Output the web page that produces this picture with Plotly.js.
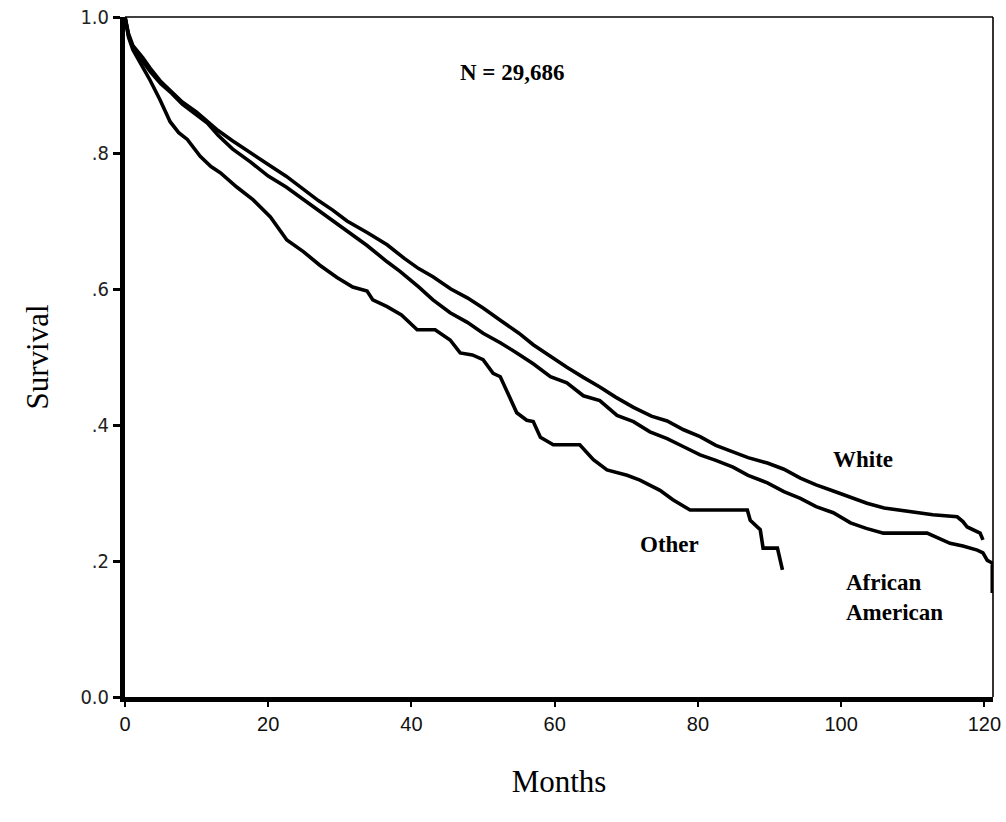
<!DOCTYPE html>
<html>
<head>
<meta charset="utf-8">
<script src="https://cdn.plot.ly/plotly-3.0.1.min.js"></script>
<style>
  html, body { margin: 0; padding: 0; background: #ffffff; }
  #chart { width: 1006px; height: 822px; }
</style>
</head>
<body>
<div id="chart"></div>
<script>
// Kaplan-Meier survival by race, months since start
const whiteMonths = [0, 0.5, 1.1, 2.5, 3.5, 5, 6.5, 8, 10, 11.5, 13, 15, 17.5, 20, 22.5, 24.5, 27, 29, 31, 33.8, 36.6, 39, 41, 43, 45.5, 47.8, 50, 52.4, 55, 57, 59.5, 61.7, 64, 66.3, 68.5, 71, 73.5, 75.7, 78, 80.3, 82.5, 84.9, 87, 89.7, 92, 94.3, 96.5, 98.9, 101, 103.6, 106, 108.2, 110.5, 112.8, 116.2, 117, 117.6, 119.4, 119.8];
const whiteSurv = [1.0, 0.975, 0.958, 0.94, 0.925, 0.905, 0.89, 0.875, 0.86, 0.846, 0.833, 0.818, 0.8, 0.783, 0.766, 0.75, 0.73, 0.716, 0.7, 0.683, 0.665, 0.645, 0.63, 0.618, 0.6, 0.587, 0.572, 0.554, 0.535, 0.518, 0.5, 0.485, 0.47, 0.456, 0.441, 0.426, 0.413, 0.406, 0.393, 0.383, 0.37, 0.36, 0.352, 0.344, 0.335, 0.322, 0.312, 0.303, 0.295, 0.285, 0.278, 0.275, 0.271, 0.268, 0.265, 0.258, 0.25, 0.241, 0.231];

const afAmMonths = [0, 0.5, 1.1, 2.5, 3.5, 5, 6.5, 8, 10, 11.5, 13, 15, 17.5, 20, 22.5, 24.5, 27, 29, 31, 33.8, 36.6, 38.4, 41, 43, 45.4, 47.8, 50, 52.4, 54.7, 57, 59.4, 61.7, 64, 66.3, 68.7, 71, 73.3, 75.7, 78, 80.3, 82.5, 84.9, 87, 89.7, 92, 94.3, 96.5, 98.9, 101.3, 103.5, 105.9, 112, 113.5, 115.2, 117, 119, 119.8, 120.4, 121.1, 121.1];
const afAmSurv = [1.0, 0.972, 0.955, 0.935, 0.92, 0.902, 0.888, 0.872, 0.856, 0.844, 0.826, 0.806, 0.787, 0.766, 0.75, 0.735, 0.716, 0.7, 0.686, 0.664, 0.64, 0.626, 0.603, 0.584, 0.565, 0.551, 0.535, 0.521, 0.506, 0.49, 0.471, 0.462, 0.443, 0.436, 0.414, 0.405, 0.39, 0.38, 0.368, 0.356, 0.348, 0.338, 0.326, 0.315, 0.302, 0.292, 0.28, 0.271, 0.256, 0.248, 0.241, 0.241, 0.234, 0.226, 0.222, 0.216, 0.212, 0.201, 0.197, 0.153];

const otherMonths = [0, 0.5, 1.1, 2.5, 3.5, 4.9, 6.3, 7.5, 8.7, 10.5, 12, 13.3, 15.6, 17.9, 20.3, 22.6, 24.9, 27.2, 29.6, 31.8, 33.8, 34.6, 36.6, 38.6, 40.8, 43.3, 45.4, 46.8, 48.5, 50, 51.4, 52.4, 53.4, 54.7, 56.1, 57, 58, 59.8, 63.5, 65.4, 67.3, 70.1, 71.9, 74.7, 76.5, 78.9, 86.9, 87.3, 88.7, 89.1, 91.1, 91.5, 91.8];
const otherSurv = [1.0, 0.97, 0.952, 0.926, 0.907, 0.878, 0.846, 0.83, 0.82, 0.795, 0.78, 0.771, 0.75, 0.731, 0.706, 0.672, 0.655, 0.635, 0.617, 0.603, 0.597, 0.584, 0.574, 0.562, 0.54, 0.54, 0.525, 0.506, 0.503, 0.496, 0.476, 0.471, 0.447, 0.418, 0.407, 0.405, 0.382, 0.371, 0.371, 0.349, 0.334, 0.326, 0.319, 0.304, 0.29, 0.275, 0.275, 0.26, 0.246, 0.219, 0.219, 0.201, 0.187];

const xTickVals = [0, 20, 40, 60, 80, 100, 120];
const xTickText = ['0', '20', '40', '60', '80', '100', '120'];
const yTickVals = [0, 0.2, 0.4, 0.6, 0.8, 1.0];
const yTickText = ['0.0', '.2', '.4', '.6', '.8', '1.0'];

const seriesNames = ['White', 'African American', 'Other'];
const totalN = 'N = 29,686';

const curve = (x, y, name) => ({
  x: x, y: y, name: name, type: 'scatter', mode: 'lines',
  line: { color: '#000000', width: 3.6, shape: 'linear' },
  hoverinfo: 'x+y+name'
});

const data = [
  curve(whiteMonths, whiteSurv, seriesNames[0]),
  curve(afAmMonths, afAmSurv, seriesNames[1]),
  curve(otherMonths, otherSurv, seriesNames[2])
];

const labelFont = { family: 'Liberation Serif, Times New Roman, serif', size: 23, color: '#000000' };

const layout = {
  width: 1006, height: 822,
  margin: { l: 125, r: 13, t: 17, b: 125, pad: 0 },
  paper_bgcolor: '#ffffff', plot_bgcolor: '#ffffff',
  showlegend: false,
  xaxis: {
    range: [0, 121.2], autorange: false,
    tickvals: xTickVals, ticktext: xTickText,
    ticks: 'outside', ticklen: 5, tickwidth: 2, tickcolor: '#000000',
    showline: true, linewidth: 5, linecolor: '#000000',
    showgrid: false, zeroline: false,
    tickfont: { family: 'Liberation Sans, Arial, sans-serif', size: 20, color: '#111111' },
    title: { text: 'Months', font: { family: 'Liberation Serif, Times New Roman, serif', size: 31, color: '#000000' }, standoff: 38 },
    automargin: false
  },
  yaxis: {
    range: [0, 1.0], autorange: false,
    tickvals: yTickVals, ticktext: yTickText,
    ticks: 'outside', ticklen: 7, tickwidth: 3, tickcolor: '#000000',
    showline: true, linewidth: 5, linecolor: '#000000',
    showgrid: false, zeroline: false,
    tickfont: { family: 'Liberation Sans Narrow, DejaVu Sans Condensed, Arial Narrow, sans-serif', size: 20, color: '#222222' },
    title: { text: 'Survival', font: { family: 'Liberation Serif, Times New Roman, serif', size: 31, color: '#000000' }, standoff: 24 },
    automargin: false
  },
  shapes: [
    { type: 'line', xref: 'paper', yref: 'paper', x0: 0, x1: 1, y0: 1, y1: 1, line: { color: '#000000', width: 1.6 } },
    { type: 'line', xref: 'paper', yref: 'paper', x0: 1, x1: 1, y0: 0, y1: 1, line: { color: '#000000', width: 1.6 } }
  ],
  annotations: [
    { x: 54, y: 0.919, xref: 'x', yref: 'y', text: '<b>' + totalN + '</b>', showarrow: false, font: labelFont },
    { x: 103, y: 0.349, xref: 'x', yref: 'y', text: '<b>' + seriesNames[0] + '</b>', showarrow: false, font: labelFont },
    { x: 76, y: 0.224, xref: 'x', yref: 'y', text: '<b>' + seriesNames[2] + '</b>', showarrow: false, font: labelFont },
    { x: 107.5, y: 0.147, xref: 'x', yref: 'y', text: '<b>African<br>American</b>', showarrow: false, align: 'left', font: labelFont }
  ]
};

Plotly.newPlot('chart', data, layout, { displayModeBar: false, staticPlot: true });
</script>
</body>
</html>
